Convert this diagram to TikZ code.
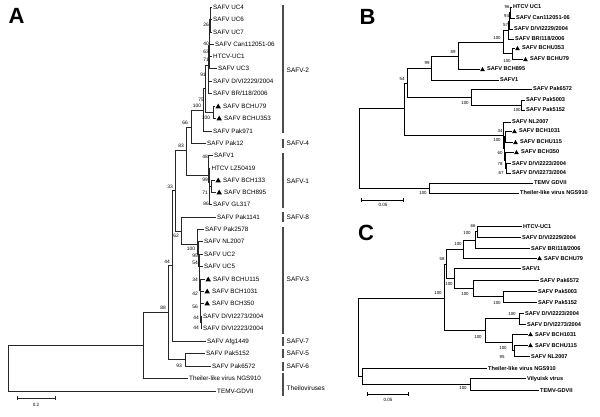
\documentclass[tikz,border=0pt]{standalone}
\usepackage{fontspec}
\setmainfont{Liberation Sans}
\usetikzlibrary{shapes.geometric}
\tikzset{
 treeA/.style={line width=0.55pt, black!85},
 treeB/.style={line width=0.8pt, black},
 lblA/.style={anchor=base west, inner sep=0pt, font=\fontsize{6.3}{7}\selectfont},
 lblB/.style={anchor=base west, inner sep=0pt, font=\bfseries\fontsize{5.6}{6}\selectfont},
 bsA/.style={inner sep=0pt, font=\fontsize{4.9}{5}\selectfont},
 bsB/.style={inner sep=0pt, font=\fontsize{4.4}{5}\selectfont},
 triA/.style={regular polygon, regular polygon sides=3, fill=black, inner sep=0pt, minimum size=6.4pt},
 triB/.style={regular polygon, regular polygon sides=3, fill=black, inner sep=0pt, minimum size=5.4pt},
 cbar/.style={line width=1.2pt, black!70},
 clbl/.style={anchor=base west, inner sep=0pt, font=\fontsize{6.5}{7}\selectfont},
 panel/.style={inner sep=0pt, font=\bfseries\fontsize{22}{22}\selectfont},
 sclbl/.style={inner sep=0pt, font=\fontsize{4.6}{5}\selectfont},
}
\newcommand{\leafA}[4]{\coordinate (#1) at (#2,#3); \node[lblA] (#1t) at ([xshift=1.5pt,yshift=-2.25pt]#1) {#4};}
\newcommand{\tleafA}[4]{\coordinate (#1) at (#2,#3); \node[triA] (#1m) at ([xshift=3.2pt,yshift=-0.8pt]#1) {}; \node[lblA] (#1t) at ([xshift=8pt,yshift=-2.25pt]#1) {#4};}
\newcommand{\leafB}[4]{\coordinate (#1) at (#2,#3); \node[lblB] (#1t) at ([xshift=1.5pt,yshift=-2pt]#1) {#4};}
\newcommand{\tleafB}[4]{\coordinate (#1) at (#2,#3); \node[triB] (#1m) at ([xshift=3pt,yshift=-0.7pt]#1) {}; \node[lblB] (#1t) at ([xshift=7.5pt,yshift=-2pt]#1) {#4};}
\newcommand{\bsA}[4]{\node[bsA] (#1) at (#2,#3) {#4};}
\newcommand{\bsB}[4]{\node[bsB] (#1) at (#2,#3) {#4};}
\begin{document}
\begin{tikzpicture}[x=1pt,y=-1pt]
\useasboundingbox (0,0) rectangle (600,417);
\fill[white] (0,0) rectangle (600,417);

% ================= PANEL A =================
\node[panel] (pA) at (16.5,16) {A};
\leafA{uc4}{211.5}{7}{SAFV UC4}
\leafA{uc6}{211.5}{19}{SAFV UC6}
\leafA{uc7}{211.5}{32}{SAFV UC7}
\leafA{can}{213.5}{44}{SAFV Can112051-06}
\leafA{htcv}{211.5}{56}{HTCV-UC1}
\leafA{uc3}{216.5}{68}{SAFV UC3}
\leafA{dvi29}{211.5}{81}{SAFV D/VI2229/2004}
\leafA{br}{211.5}{93}{SAFV BR/118/2006}
\tleafA{b79}{215}{106}{SAFV BCHU79}
\tleafA{b353}{216}{118}{SAFV BCHU353}
\leafA{p971}{211.5}{131}{SAFV Pak971}
\leafA{p12}{205.5}{143}{SAFV Pak12}
\leafA{s1}{212.5}{155}{SAFV1}
\leafA{lz}{209.8}{168}{HTCV LZ50419}
\tleafA{b133}{215}{180}{SAFV BCH133}
\tleafA{b895}{216}{192}{SAFV BCH895}
\leafA{gl}{211.5}{204}{SAFV GL317}
\leafA{p1141}{215.5}{217}{SAFV Pak1141}
\leafA{p2578}{203.5}{229}{SAFV Pak2578}
\leafA{nl}{202.5}{241}{SAFV NL2007}
\leafA{uc2}{202.5}{254}{SAFV UC2}
\leafA{uc5}{202.5}{266}{SAFV UC5}
\tleafA{b115}{205}{279}{SAFV BCHU115}
\tleafA{b1031}{204}{291}{SAFV BCH1031}
\tleafA{b350}{204}{303}{SAFV BCH350}
\leafA{dvi73}{201.5}{316}{SAFV D/VI2273/2004}
\leafA{dvi23}{201.5}{328}{SAFV D/VI2223/2004}
\leafA{afg}{205.5}{341}{SAFV Afg1449}
\leafA{p5152}{204.5}{353}{SAFV Pak5152}
\leafA{p6572}{210.5}{366}{SAFV Pak6572}
\leafA{tlv}{187.5}{378}{Theiler-like virus NGS910}
\leafA{temv}{215.5}{391}{TEMV-GDVII}

\coordinate (n26) at (210,19);
\coordinate (n40) at (209.5,30);
\coordinate (n71) at (209,45);
\coordinate (n91) at (208,65);
\coordinate (nB) at (213,112);
\coordinate (n75) at (205,88);
\coordinate (n100a) at (203,110);
\coordinate (n66) at (191,127);
\coordinate (n99) at (211,186);
\coordinate (n1c) at (209.5,196);
\coordinate (n1b) at (209,182);
\coordinate (n1) at (208.5,175);
\coordinate (n83) at (186,150);
\coordinate (n44s) at (201,322);
\coordinate (n56) at (200.6,312);
\coordinate (n42) at (200.3,300);
\coordinate (n34) at (200,290);
\coordinate (n54) at (199.5,278);
\coordinate (n95) at (199,266);
\coordinate (n3b) at (198.5,254);
\coordinate (n3) at (197,244);
\coordinate (n62) at (181,231);
\coordinate (nZ) at (175,190);
\coordinate (nY) at (172,265);
\coordinate (nX) at (168,312);
\coordinate (n93) at (185,359);
\coordinate (nW) at (143,345);
\coordinate (nR) at (8,368);

\draw[treeA] (n26)|-(uc4) (n26)|-(uc6) (n26)|-(uc7)
 (n40)|-(n26) (n40)|-(can)
 (n71)|-(n40) (n71)|-(htcv) (n71)|-(uc3)
 (n91)|-(n71) (n91)|-(dvi29) (n91)|-(br)
 (nB)|-(b79) (nB)|-(b353)
 (n75)|-(n91) (n75)|-(nB)
 (n100a)|-(n75) (n100a)|-(p971)
 (n66)|-(n100a) (n66)|-(p12)
 (n99)|-(b133) (n99)|-(b895)
 (n1c)|-(n99) (n1c)|-(gl)
 (n1b)|-(lz) (n1b)|-(n1c)
 (n1)|-(s1) (n1)|-(n1b)
 (n83)|-(n66) (n83)|-(n1)
 (n44s)|-(dvi73) (n44s)|-(dvi23)
 (n56)|-(b350) (n56)|-(n44s)
 (n42)|-(b1031) (n42)|-(n56)
 (n34)|-(b115) (n34)|-(n42)
 (n54)|-(uc5) (n54)|-(n34)
 (n95)|-(uc2) (n95)|-(n54)
 (n3b)|-(nl) (n3b)|-(n95)
 (n3)|-(p2578) (n3)|-(n3b)
 (n62)|-(p1141) (n62)|-(n3)
 (nZ)|-(n83) (nZ)|-(n62)
 (nY)|-(nZ) (nY)|-(afg)
 (n93)|-(p5152) (n93)|-(p6572)
 (nX)|-(nY) (nX)|-(n93)
 (nW)|-(nX) (nW)|-(tlv)
 (nR)|-(nW) (nR)|-(temv);

\bsA{a1}{206}{25}{26}
\bsA{a2}{206}{44}{40}
\bsA{a3}{206}{52}{63}
\bsA{a4}{206}{60}{71}
\bsA{a5}{203}{75}{91}
\bsA{a6}{201}{100}{75}
\bsA{a7}{197}{106}{100}
\bsA{a8}{206}{118}{100}
\bsA{a9}{185}{123}{66}
\bsA{a10}{181}{146}{83}
\bsA{a11}{205}{157}{48}
\bsA{a12}{205}{180}{99}
\bsA{a13}{205}{193}{71}
\bsA{a14}{206}{204}{86}
\bsA{a15}{170}{187}{33}
\bsA{a16}{176}{236}{62}
\bsA{a17}{191}{249}{100}
\bsA{a18}{195}{256}{95}
\bsA{a19}{195}{263}{54}
\bsA{a20}{195}{280}{34}
\bsA{a21}{195}{294}{42}
\bsA{a22}{195}{307}{56}
\bsA{a23}{196}{318}{44}
\bsA{a24}{196}{328}{44}
\bsA{a25}{167}{262}{44}
\bsA{a26}{163}{308}{88}
\bsA{a27}{179}{366}{93}

% clade bars
\draw[cbar] (283,5) -- (283,133);   \node[clbl] (c2) at (286.5,72.3) {SAFV-2};
\draw[cbar] (283,139) -- (283,148); \node[clbl] (c4) at (286.5,145.8) {SAFV-4};
\draw[cbar] (283,153) -- (283,208); \node[clbl] (c1) at (286.5,183.3) {SAFV-1};
\draw[cbar] (283,212) -- (283,222); \node[clbl] (c8) at (286.5,219.3) {SAFV-8};
\draw[cbar] (283,227) -- (283,334); \node[clbl] (c3) at (286.5,281.3) {SAFV-3};
\draw[cbar] (283,337) -- (283,346); \node[clbl] (c7) at (286.5,343.8) {SAFV-7};
\draw[cbar] (283,349) -- (283,358); \node[clbl] (c5) at (286.5,355.8) {SAFV-5};
\draw[cbar] (283,362) -- (283,371); \node[clbl] (c6) at (286.5,368.8) {SAFV-6};
\draw[cbar] (283,373) -- (283,396); \node[clbl] (ct) at (286.5,390.3) {Theiloviruses};

% scale A
\draw[treeA] (17,398) -- (55,398) (17,396) -- (17,400) (55,396) -- (55,400);
\node[sclbl] (sA) at (36,405) {0.2};

% ================= PANEL B =================
\node[panel] (pB) at (367.5,17) {B};
\leafB{bhtcv}{511.5}{7}{HTCV UC1}
\leafB{bcan}{514.5}{18}{SAFV Can112051-06}
\leafB{bdvi29}{512.5}{29}{SAFV D/VI2229/2004}
\leafB{bbr}{513.5}{39}{SAFV BR/118/2006}
\tleafB{bb353}{514.5}{48}{SAFV BCHU353}
\tleafB{bb79}{522.5}{59}{SAFV BCHU79}
\tleafB{bb895}{479.5}{69}{SAFV BCH895}
\leafB{bs1}{498.5}{80}{SAFV1}
\leafB{bp6572}{531.5}{89}{SAFV Pak6572}
\leafB{bp5003}{524.5}{100}{SAFV Pak5003}
\leafB{bp5152}{524.5}{110}{SAFV Pak5152}
\leafB{bnl}{510.5}{122}{SAFV NL2007}
\tleafB{bb1031}{511.5}{131}{SAFV BCH1031}
\tleafB{bb115}{512.5}{142}{SAFV BCHU115}
\tleafB{bb350}{513.5}{152}{SAFV BCH350}
\leafB{bdvi23}{510.5}{163}{SAFV D/VI2223/2004}
\leafB{bdvi73}{510.5}{173}{SAFV D/VI2273/2004}
\leafB{btemv}{532.5}{183}{TEMV GDVII}
\leafB{btlv}{518.5}{193}{Theiler-like virus NGS910}

\coordinate (bn96) at (510.5,12.5);
\coordinate (bn94) at (509.5,21);
\coordinate (bn57) at (508.5,30);
\coordinate (bnBC) at (512,53.5);
\coordinate (bnS2) at (503,42);
\coordinate (bn89) at (458,56);
\coordinate (bn99) at (431,68);
\coordinate (bnP2) at (521,105);
\coordinate (bnPak) at (471,97);
\coordinate (bn54) at (407,83);
\coordinate (bn3d) at (506,168);
\coordinate (bn3c) at (505,160);
\coordinate (bn3b) at (505.5,136.5);
\coordinate (bn3a) at (504,148);
\coordinate (bn3) at (503,135);
\coordinate (bnIn) at (404,108);
\coordinate (bnOut) at (429,188);
\coordinate (bnR) at (359,148);

\draw[treeB] (bn96)|-(bhtcv) (bn96)|-(bcan)
 (bn94)|-(bn96) (bn94)|-(bdvi29)
 (bn57)|-(bn94) (bn57)|-(bbr)
 (bnBC)|-(bb353) (bnBC)|-(bb79)
 (bnS2)|-(bn57) (bnS2)|-(bnBC)
 (bn89)|-(bnS2) (bn89)|-(bb895)
 (bn99)|-(bn89) (bn99)|-(bs1)
 (bnP2)|-(bp5003) (bnP2)|-(bp5152)
 (bnPak)|-(bp6572) (bnPak)|-(bnP2)
 (bn54)|-(bn99) (bn54)|-(bnPak)
 (bn3d)|-(bdvi23) (bn3d)|-(bdvi73)
 (bn3c)|-(bb350) (bn3c)|-(bn3d)
 (bn3b)|-(bb1031) (bn3b)|-(bb115)
 (bn3a)|-(bn3b) (bn3a)|-(bn3c)
 (bn3)|-(bnl) (bn3)|-(bn3a)
 (bnIn)|-(bn54) (bnIn)|-(bn3)
 (bnOut)|-(btemv) (bnOut)|-(btlv)
 (bnR)|-(bnIn) (bnR)|-(bnOut);

\bsB{b1}{402}{79}{54}
\bsB{b2}{427}{63}{99}
\bsB{b3}{453}{52}{89}
\bsB{b4}{465}{103}{100}
\bsB{b5}{497}{38}{100}
\bsB{b6}{507}{7}{96}
\bsB{b7}{506.5}{16}{94}
\bsB{b8}{505.5}{25}{57}
\bsB{b9}{507}{61}{100}
\bsB{b10}{517}{110}{100}
\bsB{b11}{500}{131}{34}
\bsB{b12}{497}{140}{100}
\bsB{b13}{500}{153}{60}
\bsB{b14}{500}{164}{78}
\bsB{b15}{501}{173}{67}
\bsB{b16}{423}{193}{100}

\draw[treeB] (361,200) -- (403,200) (361,198) -- (361,202) (403,198) -- (403,202);
\node[sclbl] (sB) at (383,205) {0.05};

% ================= PANEL C =================
\node[panel] (pC) at (366,233) {C};
\leafB{chtcv}{521.5}{226}{HTCV-UC1}
\leafB{cdvi29}{520.5}{237}{SAFV D/VI2229/2004}
\leafB{cbr}{529.5}{248}{SAFV BR/118/2006}
\tleafB{cb79}{536.5}{258}{SAFV BCHU79}
\leafB{cs1}{520.5}{268}{SAFV1}
\leafB{cp6572}{538.5}{280}{SAFV Pak6572}
\leafB{cp5003}{536.5}{291}{SAFV Pak5003}
\leafB{cp5152}{536.5}{302}{SAFV Pak5152}
\leafB{cdvi23}{523.5}{313}{SAFV D/VI2223/2004}
\leafB{cdvi73}{525.5}{324}{SAFV D/VI2273/2004}
\tleafB{cb1031}{527.5}{334}{SAFV BCH1031}
\tleafB{cb115}{527.5}{345}{SAFV BCHU115}
\leafB{cnl}{529.5}{356}{SAFV NL2007}
\leafB{ctlv}{486.5}{368}{Theiler-like virus NGS910}
\leafB{cvil}{525.5}{378}{Vilyuisk virus}
\leafB{ctemv}{538.5}{390}{TEMV-GDVII}

\coordinate (cn66) at (477,231.5);
\coordinate (cn100a) at (475,240);
\coordinate (cn100b) at (463,249);
\coordinate (cnP2) at (503,296.5);
\coordinate (cnPak) at (473,288);
\coordinate (cn454) at (454,278);
\coordinate (cn58) at (446,264);
\coordinate (cnDV) at (519,318.5);
\coordinate (cn95) at (514,350.5);
\coordinate (cn100c) at (512,342);
\coordinate (cnC3) at (485,330);
\coordinate (cnIn) at (444,298);
\coordinate (cnV) at (470,384);
\coordinate (cnOut) at (362,376);
\coordinate (cnR) at (358,337);

\draw[treeB] (cn66)|-(chtcv) (cn66)|-(cdvi29)
 (cn100a)|-(cn66) (cn100a)|-(cbr)
 (cn100b)|-(cn100a) (cn100b)|-(cb79)
 (cnP2)|-(cp5003) (cnP2)|-(cp5152)
 (cnPak)|-(cp6572) (cnPak)|-(cnP2)
 (cn454)|-(cs1) (cn454)|-(cnPak)
 (cn58)|-(cn100b) (cn58)|-(cn454)
 (cnDV)|-(cdvi23) (cnDV)|-(cdvi73)
 (cn95)|-(cb115) (cn95)|-(cnl)
 (cn100c)|-(cb1031) (cn100c)|-(cn95)
 (cnC3)|-(cnDV) (cnC3)|-(cn100c)
 (cnIn)|-(cn58) (cnIn)|-(cnC3)
 (cnV)|-(cvil) (cnV)|-(ctemv)
 (cnOut)|-(ctlv) (cnOut)|-(cnV)
 (cnR)|-(cnIn) (cnR)|-(cnOut);

\bsB{k1}{473}{226}{66}
\bsB{k2}{467}{233}{100}
\bsB{k3}{458}{244}{100}
\bsB{k4}{442}{259}{58}
\bsB{k5}{449}{284}{100}
\bsB{k6}{465}{294}{100}
\bsB{k7}{497}{303}{100}
\bsB{k8}{438}{293}{100}
\bsB{k9}{512}{314}{100}
\bsB{k10}{478}{337}{100}
\bsB{k11}{503}{348}{100}
\bsB{k12}{502}{357}{95}
\bsB{k13}{463}{388}{100}

\draw[treeB] (367,394) -- (408,394) (367,392) -- (367,396) (408,392) -- (408,396);
\node[sclbl] (sC) at (388,400) {0.05};
\end{tikzpicture}
\end{document}
